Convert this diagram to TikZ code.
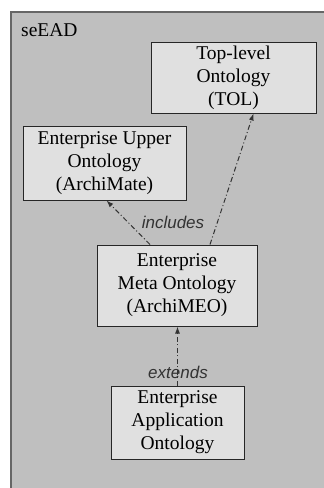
\documentclass[tikz,border=0pt]{standalone}
\usepackage{fontspec}
\setmainfont{Liberation Serif}
\setsansfont{Liberation Sans}
\usetikzlibrary{positioning, arrows.meta}

\begin{document}
\begin{tikzpicture}[x=1pt,y=-1pt]
\tikzstyle{every node}+=[inner sep=0pt]
\tikzstyle{onto}=[draw=black!85, fill=black!12, line width=1pt, align=center, font=\fontsize{19.5}{23}\selectfont]
\tikzstyle{rel}=[-{Latex[length=7pt,width=5pt]}, dash pattern=on 5pt off 2.5pt on 1pt off 2.5pt, line width=1pt, black!80]
\tikzstyle{lbl}=[font=\sffamily\itshape\fontsize{17}{19}\selectfont, text=black!80]
\useasboundingbox (0,0) rectangle (324,488);
\fill [white] (0,0) rectangle (324,488);
\draw [fill=black!25, draw=black!60, line width=1.5pt] (11,12) rectangle (330,495);
\node [anchor=west, font=\fontsize{19.5}{23}\selectfont] (sead) at (21,30) {seEAD};
\node [onto, minimum width=165, minimum height=71] (tol) at (233.5,77.5) {Top-level\\Ontology\\(TOL)};
\node [onto, minimum width=163, minimum height=74] (upper) at (104.5,163) {Enterprise Upper\\Ontology\\(ArchiMate)};
\node [onto, minimum width=160, minimum height=81] (meta) at (177,285.5) {Enterprise\\Meta Ontology\\(ArchiMEO)};
\node [onto, minimum width=133, minimum height=73] (app) at (177.5,422.5) {Enterprise\\Application\\Ontology};
\draw [rel] ([xshift=-27pt]meta.north) -- ([xshift=2pt]upper.south);
\draw [rel] ([xshift=33pt]meta.north) -- ([xshift=20pt]tol.south);
\draw [rel] (app.north) -- (app.north |- meta.south);
\node [lbl] (incl) at (173,222) {includes};
\node [lbl] (ext) at (178,372) {extends};
\end{tikzpicture}
\end{document}
